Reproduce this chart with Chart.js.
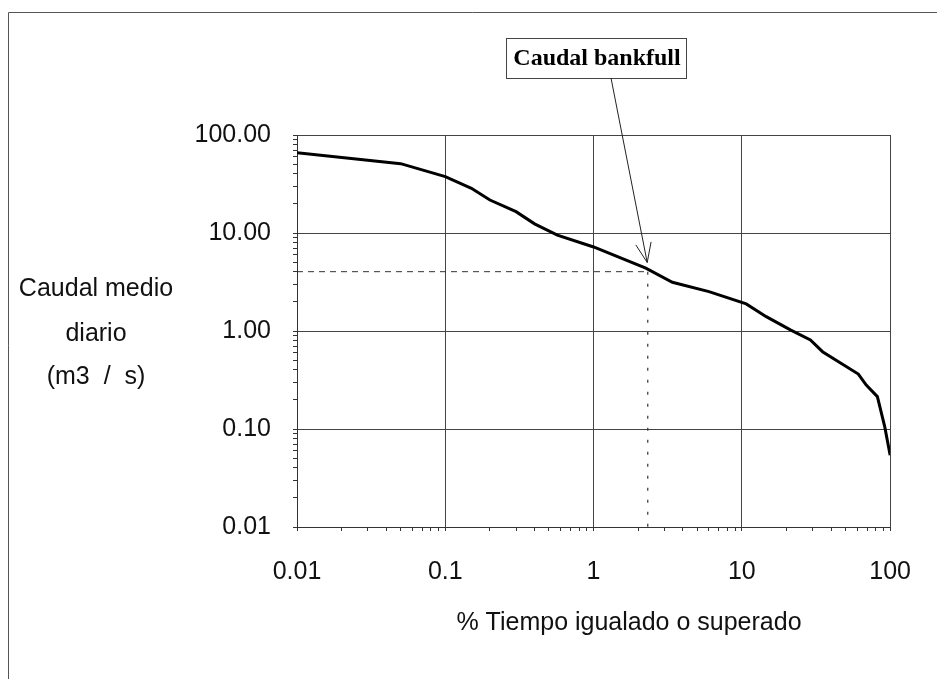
<!DOCTYPE html>
<html lang="es">
<head>
    <meta charset="UTF-8">
    <title>Curva de duración de caudales</title>
    <script src="https://cdn.jsdelivr.net/npm/chart.js"></script>
    <style>
    body {
        margin: 0;
        background: #fff;
        overflow: hidden;
    }
    canvas {
        display: block;
    }
    </style>
</head>
<body>
    <canvas id="flowChart" width="937" height="679"></canvas>

    <script>
    // % del tiempo igualado o superado / caudal medio diario (m3/s)
    const percentTime = [0.01, 0.05, 0.1, 0.15, 0.2, 0.3, 0.4, 0.57, 1, 2.25, 3.4, 6, 10.7, 14.6, 21.4, 29, 35, 46, 61, 69, 82, 92, 100];
    const dailyFlow = [66, 51, 37.6, 28.6, 21.7, 16.5, 12.4, 9.5, 7.2, 4.37, 3.14, 2.52, 1.89, 1.40, 1.02, 0.81, 0.615, 0.475, 0.364, 0.281, 0.214, 0.105, 0.054];

    // caudal bankfull
    const bankfullTime = 2.32;
    const bankfullFlow = 4.03;
    const arrowTip = [2.3, 5.0];

    const xMajor = [0.01, 0.1, 1, 10, 100];
    const xTickLabels = ['0.01', '0.1', '1', '10', '100'];
    const yMajor = [0.01, 0.1, 1, 10, 100];
    const yTickLabels = ['0.01', '0.10', '1.00', '10.00', '100.00'];

    const sansFont = "'Liberation Sans', Arial, sans-serif";

    function logTicks(majors) {
        const ticks = [];
        for (let i = 0; i < majors.length - 1; i++) {
        for (let m = 1; m <= 9; m++) {
            ticks.push({ value: m === 1 ? majors[i] : majors[i] * m });
        }
        }
        ticks.push({ value: majors[majors.length - 1] });
        return ticks;
    }

    const flowPoints = percentTime.map((t, i) => ({ x: t, y: dailyFlow[i] }));

    // textos, recuadro y flecha
    const overlayPlugin = {
        id: 'overlay',
        afterDraw(chart) {
        const ctx = chart.ctx;
        const xs = chart.scales.x;
        const ys = chart.scales.y;
        ctx.save();

        // marco exterior
        ctx.strokeStyle = '#555';
        ctx.lineWidth = 1;
        ctx.beginPath();
        ctx.moveTo(8.5, 679);
        ctx.lineTo(8.5, 12.5);
        ctx.lineTo(937, 12.5);
        ctx.stroke();

        // titulo eje y
        ctx.fillStyle = '#111';
        ctx.font = '25px ' + sansFont;
        ctx.textAlign = 'center';
        ctx.textBaseline = 'alphabetic';
        ctx.fillText('Caudal medio', 96, 296);
        ctx.fillText('diario', 96, 341);
        ctx.fillText('(m3  /  s)', 96, 384);

        // titulo eje x
        ctx.fillText('% Tiempo igualado o superado', 629, 630);

        // recuadro
        ctx.strokeStyle = '#444';
        ctx.strokeRect(506.5, 38.5, 180, 40);
        ctx.font = 'bold 24px "Liberation Serif", "Times New Roman", serif';
        ctx.fillStyle = '#000';
        ctx.fillText('Caudal bankfull', 597, 65);

        // flecha
        const sx = 611, sy = 78;
        const tx = xs.getPixelForValue(arrowTip[0]);
        const ty = ys.getPixelForValue(arrowTip[1]);
        const ang = Math.atan2(ty - sy, tx - sx);
        const len = 21, spread = 0.38;
        ctx.strokeStyle = '#222';
        ctx.lineWidth = 1;
        ctx.beginPath();
        ctx.moveTo(sx, sy);
        ctx.lineTo(tx, ty);
        ctx.moveTo(tx - len * Math.cos(ang - spread), ty - len * Math.sin(ang - spread));
        ctx.lineTo(tx, ty);
        ctx.lineTo(tx - len * Math.cos(ang + spread), ty - len * Math.sin(ang + spread));
        ctx.stroke();

        ctx.restore();
        }
    };

    new Chart(document.getElementById('flowChart'), {
        type: 'line',
        data: {
        datasets: [
            {
            label: 'Caudal',
            data: flowPoints,
            borderColor: '#000',
            borderWidth: 3,
            pointRadius: 0,
            tension: 0
            },
            {
            label: 'Bankfull horizontal',
            data: [{ x: xMajor[0], y: bankfullFlow }, { x: bankfullTime, y: bankfullFlow }],
            borderColor: '#333',
            borderWidth: 1,
            borderDash: [6, 5],
            pointRadius: 0
            },
            {
            label: 'Bankfull vertical',
            data: [{ x: bankfullTime, y: bankfullFlow }, { x: bankfullTime, y: yMajor[0] }],
            borderColor: '#333',
            borderWidth: 1.2,
            borderDash: [3, 9],
            pointRadius: 0
            }
        ]
        },
        options: {
        responsive: false,
        animation: false,
        layout: {
            padding: { top: 135, right: 40, bottom: 0, left: 0 }
        },
        plugins: {
            legend: { display: false },
            tooltip: { enabled: false }
        },
        scales: {
            x: {
            type: 'logarithmic',
            min: xMajor[0],
            max: xMajor[xMajor.length - 1],
            afterBuildTicks: scale => { scale.ticks = logTicks(xMajor); },
            afterFit: scale => { scale.height = 152; },
            grid: {
                color: c => xMajor.includes(c.tick && c.tick.value) ? '#444' : 'rgba(0,0,0,0)',
                tickColor: '#333',
                tickLength: 4
            },
            border: { color: '#333' },
            ticks: {
                autoSkip: false,
                maxRotation: 0,
                padding: 26,
                color: '#111',
                font: { family: sansFont, size: 25 },
                callback: value => {
                const i = xMajor.indexOf(value);
                return i >= 0 ? xTickLabels[i] : '';
                }
            }
            },
            y: {
            type: 'logarithmic',
            min: yMajor[0],
            max: yMajor[yMajor.length - 1],
            afterBuildTicks: scale => { scale.ticks = logTicks(yMajor); },
            afterFit: scale => { scale.width = 297; },
            grid: {
                color: c => yMajor.includes(c.tick && c.tick.value) ? '#444' : 'rgba(0,0,0,0)',
                tickColor: '#333',
                tickLength: 4
            },
            border: { color: '#333' },
            ticks: {
                autoSkip: false,
                padding: 22,
                color: '#111',
                font: { family: sansFont, size: 25 },
                callback: value => {
                const i = yMajor.indexOf(value);
                return i >= 0 ? yTickLabels[i] : '';
                }
            }
            }
        }
        },
        plugins: [overlayPlugin]
    });
    </script>
</body>
</html>
